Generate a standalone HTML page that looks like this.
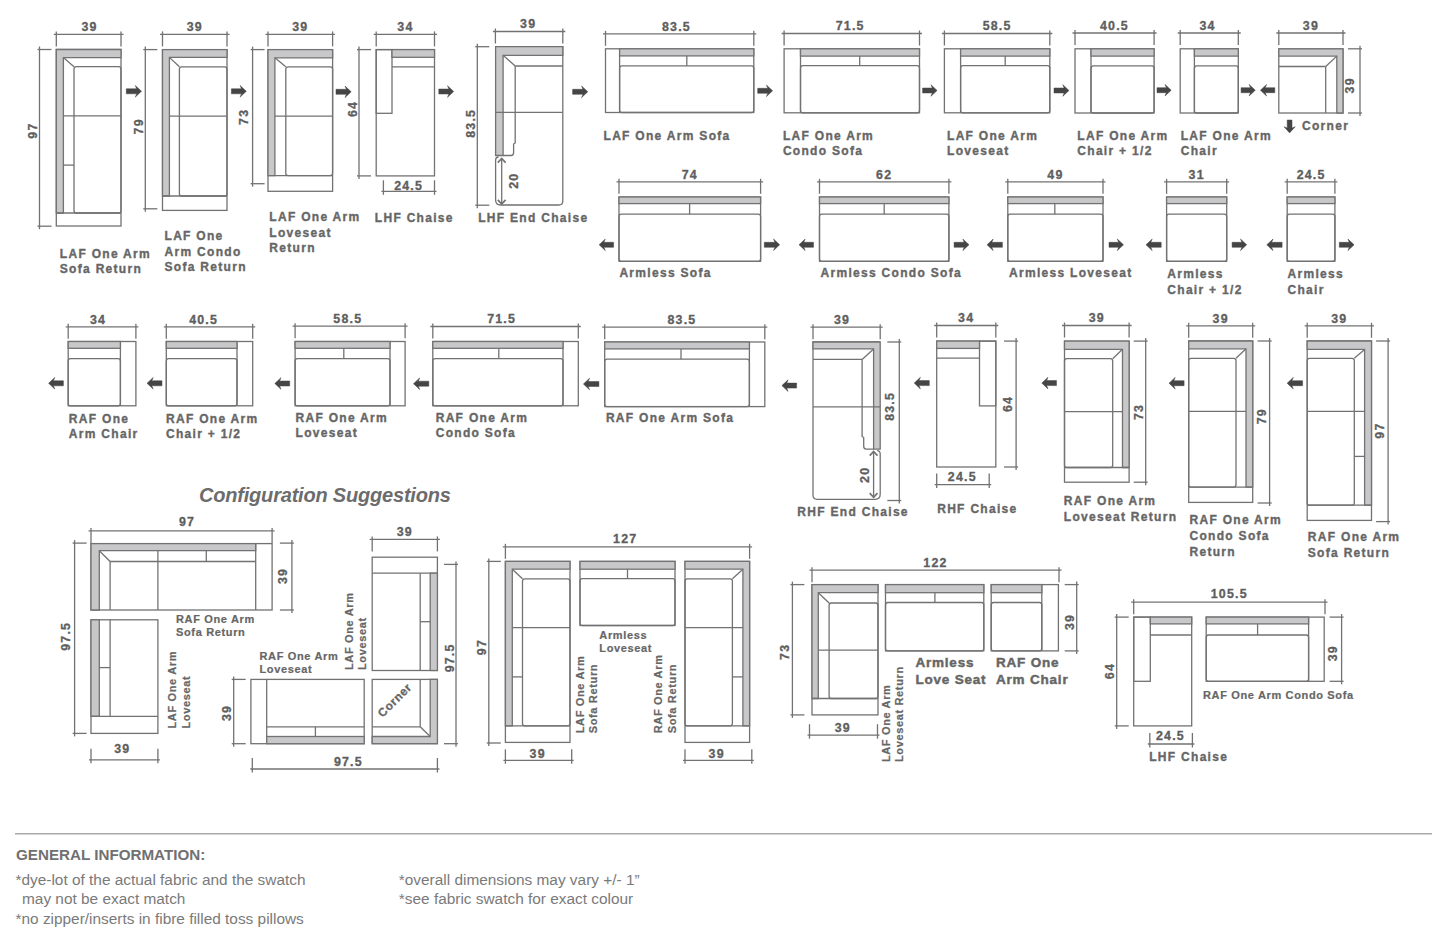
<!DOCTYPE html>
<html><head><meta charset="utf-8"><style>
html,body{margin:0;padding:0;background:#fff;}
svg{display:block;}
text{font-family:"Liberation Sans",sans-serif;}
.lb{font-size:12px;font-weight:bold;fill:#666666;letter-spacing:1.3px;stroke:#666666;stroke-width:0.35px;}
.lbs{font-size:11px;font-weight:bold;fill:#666666;letter-spacing:0.65px;stroke:#666666;stroke-width:0.2px;}
.lbc{font-size:11.8px;font-weight:bold;fill:#666666;letter-spacing:0.6px;stroke:#666666;stroke-width:0.3px;}
.lbb{font-size:13.5px;font-weight:bold;fill:#666666;letter-spacing:0.8px;stroke:#666666;stroke-width:0.45px;}
.num{font-size:12.4px;font-weight:bold;fill:#5e5e5e;letter-spacing:1.2px;stroke:#5e5e5e;stroke-width:0.3px;}
.cfg{font-size:20px;font-weight:bold;font-style:italic;fill:#6c6c6c;letter-spacing:-0.2px;}
.gh{font-size:15.2px;font-weight:bold;fill:#707070;}
.gb{font-size:15.4px;fill:#7a7a7a;}
</style></head><body>
<svg width="1445" height="941" viewBox="0 0 1445 941">
<rect x="56.3" y="49.5" width="64.7" height="176.5" fill="none" stroke="#727272" stroke-width="1.3"/>
<polygon points="56.3,49.5 121,49.5 121,57.6 63.4,57.6 63.4,213 56.3,213" fill="#c8c8ca" stroke="#727272" stroke-width="1.3"/>
<line x1="56.3" y1="213" x2="121" y2="213" stroke="#727272" stroke-width="1.3"/>
<line x1="63.4" y1="57.6" x2="74" y2="66.7" stroke="#727272" stroke-width="1.3"/>
<rect x="74" y="66.7" width="47" height="146.3" fill="none" stroke="#727272" stroke-width="1.3" rx="2.3"/>
<line x1="63.4" y1="115.8" x2="121" y2="115.8" stroke="#727272" stroke-width="1.3"/>
<line x1="63.4" y1="165.1" x2="74" y2="165.1" stroke="#727272" stroke-width="1.3"/>
<line x1="53.8" y1="34.4" x2="123.5" y2="34.4" stroke="#727272" stroke-width="1.3"/>
<line x1="56.3" y1="31.4" x2="56.3" y2="46.4" stroke="#727272" stroke-width="1.3"/>
<line x1="121" y1="31.4" x2="121" y2="46.4" stroke="#727272" stroke-width="1.3"/>
<text x="89.5" y="31.2" class="num" text-anchor="middle">39</text>
<line x1="39.5" y1="46.5" x2="39.5" y2="229.2" stroke="#727272" stroke-width="1.3"/>
<line x1="37.5" y1="49.5" x2="51.5" y2="49.5" stroke="#727272" stroke-width="1.3"/>
<line x1="37.5" y1="226.2" x2="51.5" y2="226.2" stroke="#727272" stroke-width="1.3"/>
<text x="37.5" y="130.6" class="num" text-anchor="middle" transform="rotate(-90 37.5 130.6)">97</text>
<text x="59.8" y="257.5" class="lb">LAF One Arm</text>
<text x="59.8" y="273.2" class="lb">Sofa Return</text>
<polygon points="126.3,88.8 136.7,88.8 135.3,85.5 141.5,91.3 135.3,97.1 136.7,93.8 126.3,93.8" fill="#454545" stroke="#454545" stroke-width="0.5"/>
<rect x="162.5" y="49.6" width="64.5" height="160.8" fill="none" stroke="#727272" stroke-width="1.3"/>
<polygon points="162.5,49.6 227,49.6 227,57.4 169.4,57.4 169.4,196 162.5,196" fill="#c8c8ca" stroke="#727272" stroke-width="1.3"/>
<line x1="162.5" y1="196" x2="227" y2="196" stroke="#727272" stroke-width="1.3"/>
<line x1="169.4" y1="57.4" x2="179.4" y2="66.8" stroke="#727272" stroke-width="1.3"/>
<rect x="179.4" y="66.8" width="47.6" height="129.2" fill="none" stroke="#727272" stroke-width="1.3" rx="2.3"/>
<line x1="169.4" y1="116.2" x2="227" y2="116.2" stroke="#727272" stroke-width="1.3"/>
<line x1="160" y1="34.4" x2="229.5" y2="34.4" stroke="#727272" stroke-width="1.3"/>
<line x1="162.5" y1="31.4" x2="162.5" y2="46.4" stroke="#727272" stroke-width="1.3"/>
<line x1="227" y1="31.4" x2="227" y2="46.4" stroke="#727272" stroke-width="1.3"/>
<text x="194.8" y="31.2" class="num" text-anchor="middle">39</text>
<line x1="145.3" y1="46.6" x2="145.3" y2="211.8" stroke="#727272" stroke-width="1.3"/>
<line x1="143.3" y1="49.6" x2="157.3" y2="49.6" stroke="#727272" stroke-width="1.3"/>
<line x1="143.3" y1="208.8" x2="157.3" y2="208.8" stroke="#727272" stroke-width="1.3"/>
<text x="142.8" y="126.3" class="num" text-anchor="middle" transform="rotate(-90 142.8 126.3)">79</text>
<text x="164.5" y="239.7" class="lb">LAF One</text>
<text x="164.5" y="255.5" class="lb">Arm Condo</text>
<text x="164.5" y="271.3" class="lb">Sofa Return</text>
<polygon points="231.4,88.8 241.5,88.8 240.1,85.5 246.3,91.3 240.1,97.1 241.5,93.8 231.4,93.8" fill="#454545" stroke="#454545" stroke-width="0.5"/>
<rect x="268" y="49.6" width="64.6" height="141.7" fill="none" stroke="#727272" stroke-width="1.3"/>
<polygon points="268,49.6 332.6,49.6 332.6,57.8 274.9,57.8 274.9,175.6 268,175.6" fill="#c8c8ca" stroke="#727272" stroke-width="1.3"/>
<line x1="268" y1="175.6" x2="332.6" y2="175.6" stroke="#727272" stroke-width="1.3"/>
<line x1="274.9" y1="57.8" x2="285.8" y2="66.8" stroke="#727272" stroke-width="1.3"/>
<rect x="285.8" y="66.8" width="46.8" height="108.8" fill="none" stroke="#727272" stroke-width="1.3" rx="2.3"/>
<line x1="274.9" y1="116.2" x2="332.6" y2="116.2" stroke="#727272" stroke-width="1.3"/>
<line x1="265.5" y1="34.4" x2="335.1" y2="34.4" stroke="#727272" stroke-width="1.3"/>
<line x1="268" y1="31.4" x2="268" y2="46.4" stroke="#727272" stroke-width="1.3"/>
<line x1="332.6" y1="31.4" x2="332.6" y2="46.4" stroke="#727272" stroke-width="1.3"/>
<text x="300.3" y="31.2" class="num" text-anchor="middle">39</text>
<line x1="252.6" y1="46.6" x2="252.6" y2="186.7" stroke="#727272" stroke-width="1.3"/>
<line x1="250.6" y1="49.6" x2="264.6" y2="49.6" stroke="#727272" stroke-width="1.3"/>
<line x1="250.6" y1="183.7" x2="264.6" y2="183.7" stroke="#727272" stroke-width="1.3"/>
<text x="248.1" y="116.8" class="num" text-anchor="middle" transform="rotate(-90 248.1 116.8)">73</text>
<text x="269.3" y="221" class="lb">LAF One Arm</text>
<text x="269.3" y="236.7" class="lb">Loveseat</text>
<text x="269.3" y="252.4" class="lb">Return</text>
<polygon points="336,89.3 346.4,89.3 345,86 351.2,91.8 345,97.6 346.4,94.3 336,94.3" fill="#454545" stroke="#454545" stroke-width="0.5"/>
<rect x="376.2" y="49.6" width="58.3" height="126.3" fill="none" stroke="#727272" stroke-width="1.3"/>
<rect x="376.2" y="49.6" width="15.8" height="63.7" fill="none" stroke="#727272" stroke-width="1.3"/>
<rect x="392" y="49.6" width="42.5" height="7.7" fill="#c8c8ca" stroke="#727272" stroke-width="1.3"/>
<line x1="392" y1="66.8" x2="434.5" y2="66.8" stroke="#727272" stroke-width="1.3"/>
<line x1="373.7" y1="34.4" x2="437" y2="34.4" stroke="#727272" stroke-width="1.3"/>
<line x1="376.2" y1="31.4" x2="376.2" y2="46.4" stroke="#727272" stroke-width="1.3"/>
<line x1="434.5" y1="31.4" x2="434.5" y2="46.4" stroke="#727272" stroke-width="1.3"/>
<text x="405.4" y="31.2" class="num" text-anchor="middle">34</text>
<line x1="359" y1="46.6" x2="359" y2="178.9" stroke="#727272" stroke-width="1.3"/>
<line x1="357" y1="49.6" x2="371" y2="49.6" stroke="#727272" stroke-width="1.3"/>
<line x1="357" y1="175.9" x2="371" y2="175.9" stroke="#727272" stroke-width="1.3"/>
<text x="356.5" y="109" class="num" text-anchor="middle" transform="rotate(-90 356.5 109)">64</text>
<line x1="381.4" y1="191.3" x2="436.5" y2="191.3" stroke="#727272" stroke-width="1.3"/>
<line x1="383.4" y1="180.3" x2="383.4" y2="194.8" stroke="#727272" stroke-width="1.3"/>
<line x1="434.5" y1="180.3" x2="434.5" y2="194.8" stroke="#727272" stroke-width="1.3"/>
<text x="408.6" y="189.8" class="num" text-anchor="middle">24.5</text>
<text x="374.8" y="222.3" class="lb">LHF Chaise</text>
<polygon points="438.8,89 448.9,89 447.5,85.7 453.7,91.5 447.5,97.3 448.9,94 438.8,94" fill="#454545" stroke="#454545" stroke-width="0.5"/>
<path d="M495.6,46.7 L562.8,46.7 L562.8,201 Q562.8,205 558.8,205 L500.6,205 Q495.6,205 495.6,200 L495.6,160.5 Q495.6,157.0 498.6,157.0" fill="none" stroke="#727272" stroke-width="1.3"/>
<polygon points="495.6,46.7 562.8,46.7 562.8,55.3 503.1,55.3 503.1,155.5 495.6,155.5" fill="#c8c8ca" stroke="#727272" stroke-width="1.3"/>
<line x1="503.1" y1="55.3" x2="515.2" y2="66" stroke="#727272" stroke-width="1.3"/>
<line x1="515.2" y1="66" x2="562.8" y2="66" stroke="#727272" stroke-width="1.3"/>
<path d="M515.2,66 L515.2,143 L513.6,144 L513.6,152.5 Q513.6,155.5 511.20000000000005,155.5 L503.1,155.5" fill="none" stroke="#727272" stroke-width="1.3"/>
<line x1="495.6" y1="112.4" x2="562.8" y2="112.4" stroke="#727272" stroke-width="1.3"/>
<line x1="492.9" y1="31.5" x2="565.3" y2="31.5" stroke="#727272" stroke-width="1.3"/>
<line x1="495.4" y1="28.5" x2="495.4" y2="43.5" stroke="#727272" stroke-width="1.3"/>
<line x1="562.8" y1="28.5" x2="562.8" y2="43.5" stroke="#727272" stroke-width="1.3"/>
<text x="528.2" y="28.3" class="num" text-anchor="middle">39</text>
<line x1="477.3" y1="43.7" x2="477.3" y2="208.2" stroke="#727272" stroke-width="1.3"/>
<line x1="475.3" y1="46.7" x2="489.3" y2="46.7" stroke="#727272" stroke-width="1.3"/>
<line x1="475.3" y1="205.2" x2="489.3" y2="205.2" stroke="#727272" stroke-width="1.3"/>
<text x="475.1" y="123.3" class="num" text-anchor="middle" transform="rotate(-90 475.1 123.3)">83.5</text>
<line x1="501.7" y1="158.5" x2="501.7" y2="204" stroke="#727272" stroke-width="1.3"/>
<path d="M497.8,162.6 L501.7,158.5 L505.6,162.6" fill="none" stroke="#727272" stroke-width="1.7"/>
<path d="M497.8,199.8 L501.7,204 L505.6,199.8" fill="none" stroke="#727272" stroke-width="1.7"/>
<text x="518.1" y="180.7" class="num" text-anchor="middle" transform="rotate(-90 518.1 180.7)">20</text>
<text x="478.2" y="222.3" class="lb">LHF End Chaise</text>
<polygon points="572.6,89.3 583,89.3 581.6,86 587.8,91.8 581.6,97.6 583,94.3 572.6,94.3" fill="#454545" stroke="#454545" stroke-width="0.5"/>
<rect x="605.5" y="48.8" width="148.3" height="63.7" fill="none" stroke="#727272" stroke-width="1.3"/>
<line x1="619.6" y1="48.8" x2="619.6" y2="112.5" stroke="#727272" stroke-width="1.3"/>
<rect x="619.6" y="48.8" width="134.2" height="7.1" fill="#c8c8ca" stroke="#727272" stroke-width="1.3"/>
<rect x="619.6" y="65.8" width="134.2" height="46.7" fill="none" stroke="#727272" stroke-width="1.3" rx="2.3"/>
<line x1="686.8" y1="55.9" x2="686.8" y2="65.8" stroke="#727272" stroke-width="1.3"/>
<line x1="603" y1="33.8" x2="756.3" y2="33.8" stroke="#727272" stroke-width="1.3"/>
<line x1="605.5" y1="30.8" x2="605.5" y2="45.8" stroke="#727272" stroke-width="1.3"/>
<line x1="753.8" y1="30.8" x2="753.8" y2="45.8" stroke="#727272" stroke-width="1.3"/>
<text x="676.5" y="30.6" class="num" text-anchor="middle">83.5</text>
<text x="603.5" y="139.5" class="lb">LAF One Arm Sofa</text>
<polygon points="757.7,88.3 767.8,88.3 766.4,85 772.6,90.8 766.4,96.6 767.8,93.3 757.7,93.3" fill="#454545" stroke="#454545" stroke-width="0.5"/>
<rect x="784.1" y="48.8" width="135.4" height="64" fill="none" stroke="#727272" stroke-width="1.3"/>
<line x1="800.5" y1="48.8" x2="800.5" y2="112.8" stroke="#727272" stroke-width="1.3"/>
<rect x="800.5" y="48.8" width="119" height="7.3" fill="#c8c8ca" stroke="#727272" stroke-width="1.3"/>
<rect x="800.5" y="65.6" width="119" height="47.2" fill="none" stroke="#727272" stroke-width="1.3" rx="2.3"/>
<line x1="859.7" y1="56.1" x2="859.7" y2="65.6" stroke="#727272" stroke-width="1.3"/>
<line x1="781.6" y1="33.5" x2="922" y2="33.5" stroke="#727272" stroke-width="1.3"/>
<line x1="784.1" y1="30.5" x2="784.1" y2="45.5" stroke="#727272" stroke-width="1.3"/>
<line x1="919.5" y1="30.5" x2="919.5" y2="45.5" stroke="#727272" stroke-width="1.3"/>
<text x="850.2" y="30.3" class="num" text-anchor="middle">71.5</text>
<text x="782.9" y="139.7" class="lb">LAF One Arm</text>
<text x="782.9" y="154.7" class="lb">Condo Sofa</text>
<polygon points="922.6,88 932.3,88 930.9,84.7 937.1,90.5 930.9,96.3 932.3,93 922.6,93" fill="#454545" stroke="#454545" stroke-width="0.5"/>
<rect x="944.4" y="48.8" width="105.4" height="64" fill="none" stroke="#727272" stroke-width="1.3"/>
<line x1="960.6" y1="48.8" x2="960.6" y2="112.8" stroke="#727272" stroke-width="1.3"/>
<rect x="960.6" y="48.8" width="89.2" height="7.3" fill="#c8c8ca" stroke="#727272" stroke-width="1.3"/>
<rect x="960.6" y="65.6" width="89.2" height="47.2" fill="none" stroke="#727272" stroke-width="1.3" rx="2.3"/>
<line x1="1005.2" y1="56.1" x2="1005.2" y2="65.6" stroke="#727272" stroke-width="1.3"/>
<line x1="941.9" y1="33.5" x2="1052.3" y2="33.5" stroke="#727272" stroke-width="1.3"/>
<line x1="944.4" y1="30.5" x2="944.4" y2="45.5" stroke="#727272" stroke-width="1.3"/>
<line x1="1049.8" y1="30.5" x2="1049.8" y2="45.5" stroke="#727272" stroke-width="1.3"/>
<text x="997.1" y="30.3" class="num" text-anchor="middle">58.5</text>
<text x="947" y="140.2" class="lb">LAF One Arm</text>
<text x="947" y="154.7" class="lb">Loveseat</text>
<polygon points="1054,88 1064.2,88 1062.8,84.7 1069,90.5 1062.8,96.3 1064.2,93 1054,93" fill="#454545" stroke="#454545" stroke-width="0.5"/>
<rect x="1075" y="48.8" width="79.1" height="64.2" fill="none" stroke="#727272" stroke-width="1.3"/>
<line x1="1091" y1="48.8" x2="1091" y2="113" stroke="#727272" stroke-width="1.3"/>
<rect x="1091" y="48.8" width="63.1" height="7.3" fill="#c8c8ca" stroke="#727272" stroke-width="1.3"/>
<rect x="1091" y="65.8" width="63.1" height="47.2" fill="none" stroke="#727272" stroke-width="1.3" rx="2.3"/>
<line x1="1072.5" y1="33" x2="1156.6" y2="33" stroke="#727272" stroke-width="1.3"/>
<line x1="1075" y1="30" x2="1075" y2="45" stroke="#727272" stroke-width="1.3"/>
<line x1="1154.1" y1="30" x2="1154.1" y2="45" stroke="#727272" stroke-width="1.3"/>
<text x="1114.5" y="29.8" class="num" text-anchor="middle">40.5</text>
<text x="1077.3" y="140.2" class="lb">LAF One Arm</text>
<text x="1077.3" y="155" class="lb">Chair + 1/2</text>
<polygon points="1157,87.7 1166.4,87.7 1165,84.4 1171.2,90.2 1165,96 1166.4,92.7 1157,92.7" fill="#454545" stroke="#454545" stroke-width="0.5"/>
<rect x="1180.2" y="48.8" width="58.1" height="64.2" fill="none" stroke="#727272" stroke-width="1.3"/>
<line x1="1194.4" y1="48.8" x2="1194.4" y2="113" stroke="#727272" stroke-width="1.3"/>
<rect x="1194.4" y="48.8" width="43.9" height="7.3" fill="#c8c8ca" stroke="#727272" stroke-width="1.3"/>
<rect x="1194.4" y="65.8" width="43.9" height="47.2" fill="none" stroke="#727272" stroke-width="1.3" rx="2.3"/>
<line x1="1177.7" y1="33" x2="1240.8" y2="33" stroke="#727272" stroke-width="1.3"/>
<line x1="1180.2" y1="30" x2="1180.2" y2="45" stroke="#727272" stroke-width="1.3"/>
<line x1="1238.3" y1="30" x2="1238.3" y2="45" stroke="#727272" stroke-width="1.3"/>
<text x="1207.5" y="29.8" class="num" text-anchor="middle">34</text>
<text x="1180.7" y="140.2" class="lb">LAF One Arm</text>
<text x="1180.7" y="155" class="lb">Chair</text>
<polygon points="1241.1,87.7 1250.5,87.7 1249.1,84.4 1255.3,90.2 1249.1,96 1250.5,92.7 1241.1,92.7" fill="#454545" stroke="#454545" stroke-width="0.5"/>
<polygon points="1274.8,87.7 1265.2,87.7 1266.6,84.4 1260.4,90.2 1266.6,96 1265.2,92.7 1274.8,92.7" fill="#454545" stroke="#454545" stroke-width="0.5"/>
<rect x="1278.8" y="48.8" width="64.2" height="64.2" fill="none" stroke="#727272" stroke-width="1.3"/>
<polygon points="1278.8,48.8 1343,48.8 1343,113 1336.8,113 1336.8,56.1 1278.8,56.1" fill="#c8c8ca" stroke="#727272" stroke-width="1.3"/>
<line x1="1336.8" y1="56.1" x2="1325.7" y2="66.5" stroke="#727272" stroke-width="1.3"/>
<line x1="1278.8" y1="66.5" x2="1325.7" y2="66.5" stroke="#727272" stroke-width="1.3"/>
<line x1="1325.7" y1="66.5" x2="1325.7" y2="113" stroke="#727272" stroke-width="1.3"/>
<line x1="1276.3" y1="33" x2="1345.5" y2="33" stroke="#727272" stroke-width="1.3"/>
<line x1="1278.8" y1="30" x2="1278.8" y2="45" stroke="#727272" stroke-width="1.3"/>
<line x1="1343" y1="30" x2="1343" y2="45" stroke="#727272" stroke-width="1.3"/>
<text x="1310.9" y="29.8" class="num" text-anchor="middle">39</text>
<line x1="1360" y1="45.8" x2="1360" y2="116" stroke="#727272" stroke-width="1.3"/>
<line x1="1348" y1="48.8" x2="1362" y2="48.8" stroke="#727272" stroke-width="1.3"/>
<line x1="1348" y1="113" x2="1362" y2="113" stroke="#727272" stroke-width="1.3"/>
<text x="1354.2" y="85.3" class="num" text-anchor="middle" transform="rotate(-90 1354.2 85.3)">39</text>
<polygon points="1287.2,120 1287.2,128.1 1284,126.7 1289.6,132.9 1295.2,126.7 1292,128.1 1292,120" fill="#454545" stroke="#454545" stroke-width="0.5"/>
<text x="1302" y="129.6" class="lb">Corner</text>
<rect x="619" y="197" width="141.6" height="64.3" fill="none" stroke="#727272" stroke-width="1.3"/>
<rect x="619" y="197" width="141.6" height="6.6" fill="#c8c8ca" stroke="#727272" stroke-width="1.3"/>
<rect x="619" y="214.2" width="141.6" height="47.1" fill="none" stroke="#727272" stroke-width="1.3" rx="2.3"/>
<line x1="689.6" y1="203.6" x2="689.6" y2="214.2" stroke="#727272" stroke-width="1.3"/>
<line x1="616.5" y1="181.8" x2="763.1" y2="181.8" stroke="#727272" stroke-width="1.3"/>
<line x1="619" y1="178.8" x2="619" y2="193.8" stroke="#727272" stroke-width="1.3"/>
<line x1="760.6" y1="178.8" x2="760.6" y2="193.8" stroke="#727272" stroke-width="1.3"/>
<text x="689.8" y="178.6" class="num" text-anchor="middle">74</text>
<polygon points="613.6,242.3 603.9,242.3 605.3,239 599.1,244.8 605.3,250.6 603.9,247.3 613.6,247.3" fill="#454545" stroke="#454545" stroke-width="0.5"/>
<polygon points="764.3,242.3 774.9,242.3 773.5,239 779.7,244.8 773.5,250.6 774.9,247.3 764.3,247.3" fill="#454545" stroke="#454545" stroke-width="0.5"/>
<text x="619.4" y="277.3" class="lb">Armless Sofa</text>
<rect x="819.5" y="197" width="129.4" height="64.3" fill="none" stroke="#727272" stroke-width="1.3"/>
<rect x="819.5" y="197" width="129.4" height="6.6" fill="#c8c8ca" stroke="#727272" stroke-width="1.3"/>
<rect x="819.5" y="214.2" width="129.4" height="47.1" fill="none" stroke="#727272" stroke-width="1.3" rx="2.3"/>
<line x1="884.2" y1="203.6" x2="884.2" y2="214.2" stroke="#727272" stroke-width="1.3"/>
<line x1="817" y1="181.8" x2="951.4" y2="181.8" stroke="#727272" stroke-width="1.3"/>
<line x1="819.5" y1="178.8" x2="819.5" y2="193.8" stroke="#727272" stroke-width="1.3"/>
<line x1="948.9" y1="178.8" x2="948.9" y2="193.8" stroke="#727272" stroke-width="1.3"/>
<text x="884.2" y="178.6" class="num" text-anchor="middle">62</text>
<polygon points="813.5,242.3 803.8,242.3 805.2,239 799,244.8 805.2,250.6 803.8,247.3 813.5,247.3" fill="#454545" stroke="#454545" stroke-width="0.5"/>
<polygon points="954.1,242.3 964.2,242.3 962.8,239 969,244.8 962.8,250.6 964.2,247.3 954.1,247.3" fill="#454545" stroke="#454545" stroke-width="0.5"/>
<text x="820.5" y="277.3" class="lb">Armless Condo Sofa</text>
<rect x="1007.8" y="197" width="95.2" height="64.3" fill="none" stroke="#727272" stroke-width="1.3"/>
<rect x="1007.8" y="197" width="95.2" height="6.6" fill="#c8c8ca" stroke="#727272" stroke-width="1.3"/>
<rect x="1007.8" y="214.2" width="95.2" height="47.1" fill="none" stroke="#727272" stroke-width="1.3" rx="2.3"/>
<line x1="1054.8" y1="203.6" x2="1054.8" y2="214.2" stroke="#727272" stroke-width="1.3"/>
<line x1="1005.3" y1="181.8" x2="1105.5" y2="181.8" stroke="#727272" stroke-width="1.3"/>
<line x1="1007.8" y1="178.8" x2="1007.8" y2="193.8" stroke="#727272" stroke-width="1.3"/>
<line x1="1103" y1="178.8" x2="1103" y2="193.8" stroke="#727272" stroke-width="1.3"/>
<text x="1055.4" y="178.6" class="num" text-anchor="middle">49</text>
<polygon points="1002.4,242.3 991.8,242.3 993.2,239 987,244.8 993.2,250.6 991.8,247.3 1002.4,247.3" fill="#454545" stroke="#454545" stroke-width="0.5"/>
<polygon points="1109,242.3 1118.7,242.3 1117.3,239 1123.5,244.8 1117.3,250.6 1118.7,247.3 1109,247.3" fill="#454545" stroke="#454545" stroke-width="0.5"/>
<text x="1009" y="277.3" class="lb">Armless Loveseat</text>
<rect x="1166.6" y="197" width="60.1" height="64.3" fill="none" stroke="#727272" stroke-width="1.3"/>
<rect x="1166.6" y="197" width="60.1" height="6.6" fill="#c8c8ca" stroke="#727272" stroke-width="1.3"/>
<rect x="1166.6" y="214.2" width="60.1" height="47.1" fill="none" stroke="#727272" stroke-width="1.3" rx="2.3"/>
<line x1="1164.1" y1="181.8" x2="1229.2" y2="181.8" stroke="#727272" stroke-width="1.3"/>
<line x1="1166.6" y1="178.8" x2="1166.6" y2="193.8" stroke="#727272" stroke-width="1.3"/>
<line x1="1226.7" y1="178.8" x2="1226.7" y2="193.8" stroke="#727272" stroke-width="1.3"/>
<text x="1196.7" y="178.6" class="num" text-anchor="middle">31</text>
<polygon points="1161.2,242.3 1150.8,242.3 1152.2,239 1146,244.8 1152.2,250.6 1150.8,247.3 1161.2,247.3" fill="#454545" stroke="#454545" stroke-width="0.5"/>
<polygon points="1232.1,242.3 1241.9,242.3 1240.5,239 1246.7,244.8 1240.5,250.6 1241.9,247.3 1232.1,247.3" fill="#454545" stroke="#454545" stroke-width="0.5"/>
<text x="1167.3" y="277.8" class="lb">Armless</text>
<text x="1167.3" y="293.5" class="lb">Chair + 1/2</text>
<rect x="1287.2" y="197" width="47.7" height="64.3" fill="none" stroke="#727272" stroke-width="1.3"/>
<rect x="1287.2" y="197" width="47.7" height="6.6" fill="#c8c8ca" stroke="#727272" stroke-width="1.3"/>
<rect x="1287.2" y="214.2" width="47.7" height="47.1" fill="none" stroke="#727272" stroke-width="1.3" rx="2.3"/>
<line x1="1284.7" y1="181.8" x2="1337.4" y2="181.8" stroke="#727272" stroke-width="1.3"/>
<line x1="1287.2" y1="178.8" x2="1287.2" y2="193.8" stroke="#727272" stroke-width="1.3"/>
<line x1="1334.9" y1="178.8" x2="1334.9" y2="193.8" stroke="#727272" stroke-width="1.3"/>
<text x="1311.1" y="178.6" class="num" text-anchor="middle">24.5</text>
<polygon points="1282.1,242.3 1271.6,242.3 1273,239 1266.8,244.8 1273,250.6 1271.6,247.3 1282.1,247.3" fill="#454545" stroke="#454545" stroke-width="0.5"/>
<polygon points="1339.3,242.3 1349.3,242.3 1347.9,239 1354.1,244.8 1347.9,250.6 1349.3,247.3 1339.3,247.3" fill="#454545" stroke="#454545" stroke-width="0.5"/>
<text x="1287.5" y="277.8" class="lb">Armless</text>
<text x="1287.5" y="293.5" class="lb">Chair</text>
<rect x="68.2" y="341.5" width="67.7" height="64.3" fill="none" stroke="#727272" stroke-width="1.3"/>
<line x1="120.4" y1="341.5" x2="120.4" y2="405.8" stroke="#727272" stroke-width="1.3"/>
<rect x="68.2" y="341.5" width="52.2" height="6.8" fill="#c8c8ca" stroke="#727272" stroke-width="1.3"/>
<rect x="68.2" y="358.7" width="52.2" height="47.1" fill="none" stroke="#727272" stroke-width="1.3" rx="2.3"/>
<line x1="65.7" y1="326.8" x2="138.4" y2="326.8" stroke="#727272" stroke-width="1.3"/>
<line x1="68.2" y1="323.8" x2="68.2" y2="338.8" stroke="#727272" stroke-width="1.3"/>
<line x1="135.9" y1="323.8" x2="135.9" y2="338.8" stroke="#727272" stroke-width="1.3"/>
<text x="98" y="323.6" class="num" text-anchor="middle">34</text>
<text x="68.8" y="422.9" class="lb">RAF One</text>
<text x="68.8" y="437.6" class="lb">Arm Chair</text>
<polygon points="63.4,380.8 53.4,380.8 54.8,377.5 48.6,383.3 54.8,389.1 53.4,385.8 63.4,385.8" fill="#454545" stroke="#454545" stroke-width="0.5"/>
<rect x="166.3" y="341.5" width="86.4" height="64.3" fill="none" stroke="#727272" stroke-width="1.3"/>
<line x1="237" y1="341.5" x2="237" y2="405.8" stroke="#727272" stroke-width="1.3"/>
<rect x="166.3" y="341.5" width="70.7" height="6.8" fill="#c8c8ca" stroke="#727272" stroke-width="1.3"/>
<rect x="166.3" y="358.7" width="70.7" height="47.1" fill="none" stroke="#727272" stroke-width="1.3" rx="2.3"/>
<line x1="163.8" y1="326.8" x2="255.2" y2="326.8" stroke="#727272" stroke-width="1.3"/>
<line x1="166.3" y1="323.8" x2="166.3" y2="338.8" stroke="#727272" stroke-width="1.3"/>
<line x1="252.7" y1="323.8" x2="252.7" y2="338.8" stroke="#727272" stroke-width="1.3"/>
<text x="203.6" y="323.6" class="num" text-anchor="middle">40.5</text>
<text x="166" y="422.9" class="lb">RAF One Arm</text>
<text x="166" y="437.6" class="lb">Chair + 1/2</text>
<polygon points="162,380.8 151.8,380.8 153.2,377.5 147,383.3 153.2,389.1 151.8,385.8 162,385.8" fill="#454545" stroke="#454545" stroke-width="0.5"/>
<rect x="295.1" y="341.5" width="110" height="64.3" fill="none" stroke="#727272" stroke-width="1.3"/>
<line x1="390" y1="341.5" x2="390" y2="405.8" stroke="#727272" stroke-width="1.3"/>
<rect x="295.1" y="341.5" width="94.9" height="6.8" fill="#c8c8ca" stroke="#727272" stroke-width="1.3"/>
<rect x="295.1" y="358.7" width="94.9" height="47.1" fill="none" stroke="#727272" stroke-width="1.3" rx="2.3"/>
<line x1="343.8" y1="348.3" x2="343.8" y2="358.7" stroke="#727272" stroke-width="1.3"/>
<line x1="292.6" y1="326.2" x2="407.6" y2="326.2" stroke="#727272" stroke-width="1.3"/>
<line x1="295.1" y1="323.2" x2="295.1" y2="338.2" stroke="#727272" stroke-width="1.3"/>
<line x1="405.1" y1="323.2" x2="405.1" y2="338.2" stroke="#727272" stroke-width="1.3"/>
<text x="347.8" y="323" class="num" text-anchor="middle">58.5</text>
<text x="295.5" y="421.8" class="lb">RAF One Arm</text>
<text x="295.5" y="437.3" class="lb">Loveseat</text>
<polygon points="289.7,381 279.6,381 281,377.7 274.8,383.5 281,389.3 279.6,386 289.7,386" fill="#454545" stroke="#454545" stroke-width="0.5"/>
<rect x="432.8" y="341.5" width="145.5" height="64.3" fill="none" stroke="#727272" stroke-width="1.3"/>
<line x1="563" y1="341.5" x2="563" y2="405.8" stroke="#727272" stroke-width="1.3"/>
<rect x="432.8" y="341.5" width="130.2" height="6.8" fill="#c8c8ca" stroke="#727272" stroke-width="1.3"/>
<rect x="432.8" y="358.7" width="130.2" height="47.1" fill="none" stroke="#727272" stroke-width="1.3" rx="2.3"/>
<line x1="498.8" y1="348.3" x2="498.8" y2="358.7" stroke="#727272" stroke-width="1.3"/>
<line x1="430.3" y1="326.5" x2="580.8" y2="326.5" stroke="#727272" stroke-width="1.3"/>
<line x1="432.8" y1="323.5" x2="432.8" y2="338.5" stroke="#727272" stroke-width="1.3"/>
<line x1="578.3" y1="323.5" x2="578.3" y2="338.5" stroke="#727272" stroke-width="1.3"/>
<text x="501.6" y="323.3" class="num" text-anchor="middle">71.5</text>
<text x="435.7" y="421.8" class="lb">RAF One Arm</text>
<text x="435.7" y="437.3" class="lb">Condo Sofa</text>
<polygon points="428.8,381.2 418.3,381.2 419.7,377.9 413.5,383.7 419.7,389.5 418.3,386.2 428.8,386.2" fill="#454545" stroke="#454545" stroke-width="0.5"/>
<rect x="604.7" y="342" width="160.1" height="64.6" fill="none" stroke="#727272" stroke-width="1.3"/>
<line x1="749.4" y1="342" x2="749.4" y2="406.6" stroke="#727272" stroke-width="1.3"/>
<rect x="604.7" y="342" width="144.7" height="6.9" fill="#c8c8ca" stroke="#727272" stroke-width="1.3"/>
<rect x="604.7" y="359.2" width="144.7" height="47.4" fill="none" stroke="#727272" stroke-width="1.3" rx="2.3"/>
<line x1="681" y1="348.9" x2="681" y2="359.2" stroke="#727272" stroke-width="1.3"/>
<line x1="602.2" y1="327.2" x2="767.3" y2="327.2" stroke="#727272" stroke-width="1.3"/>
<line x1="604.7" y1="324.2" x2="604.7" y2="339.2" stroke="#727272" stroke-width="1.3"/>
<line x1="764.8" y1="324.2" x2="764.8" y2="339.2" stroke="#727272" stroke-width="1.3"/>
<text x="682" y="324" class="num" text-anchor="middle">83.5</text>
<text x="605.9" y="422.2" class="lb">RAF One Arm Sofa</text>
<polygon points="598.9,381.5 588.2,381.5 589.6,378.2 583.4,384 589.6,389.8 588.2,386.5 598.9,386.5" fill="#454545" stroke="#454545" stroke-width="0.5"/>
<path d="M880.2,342 L813,342 L813,495.3 Q813,499.3 817,499.3 L875.2,499.3 Q880.2,499.3 880.2,494.3 L880.2,454.1 Q880.2,450.6 877.2,450.6" fill="none" stroke="#727272" stroke-width="1.3"/>
<polygon points="880.2,342 813,342 813,348.9 873.6,348.9 873.6,449.1 880.2,449.1" fill="#c8c8ca" stroke="#727272" stroke-width="1.3"/>
<line x1="873.6" y1="348.9" x2="862.1" y2="359.4" stroke="#727272" stroke-width="1.3"/>
<line x1="862.1" y1="359.4" x2="813" y2="359.4" stroke="#727272" stroke-width="1.3"/>
<path d="M862.1,359.4 L862.1,436.5 L863.7,437.5 L863.7,446 Q863.7,449.1 866.1,449.1 L873.6,449.1" fill="none" stroke="#727272" stroke-width="1.3"/>
<line x1="813" y1="406.8" x2="880.2" y2="406.8" stroke="#727272" stroke-width="1.3"/>
<line x1="810.5" y1="327.2" x2="882.7" y2="327.2" stroke="#727272" stroke-width="1.3"/>
<line x1="813" y1="324.2" x2="813" y2="339.2" stroke="#727272" stroke-width="1.3"/>
<line x1="880.2" y1="324.2" x2="880.2" y2="339.2" stroke="#727272" stroke-width="1.3"/>
<text x="842" y="324" class="num" text-anchor="middle">39</text>
<line x1="899.3" y1="339" x2="899.3" y2="503.5" stroke="#727272" stroke-width="1.3"/>
<line x1="887.3" y1="342" x2="901.3" y2="342" stroke="#727272" stroke-width="1.3"/>
<line x1="887.3" y1="500.5" x2="901.3" y2="500.5" stroke="#727272" stroke-width="1.3"/>
<text x="894.3" y="406.4" class="num" text-anchor="middle" transform="rotate(-90 894.3 406.4)">83.5</text>
<line x1="873.6" y1="451.5" x2="873.6" y2="497.5" stroke="#727272" stroke-width="1.3"/>
<path d="M869.7,455.6 L873.6,451.5 L877.5,455.6" fill="none" stroke="#727272" stroke-width="1.7"/>
<path d="M869.7,493.2 L873.6,497.3 L877.5,493.2" fill="none" stroke="#727272" stroke-width="1.7"/>
<text x="869.1" y="474.8" class="num" text-anchor="middle" transform="rotate(-90 869.1 474.8)">20</text>
<text x="797.3" y="516.4" class="lb">RHF End Chaise</text>
<polygon points="796.6,383.1 786.7,383.1 788.1,379.8 781.9,385.6 788.1,391.4 786.7,388.1 796.6,388.1" fill="#454545" stroke="#454545" stroke-width="0.5"/>
<rect x="936.7" y="341.1" width="59.1" height="125.9" fill="none" stroke="#727272" stroke-width="1.3"/>
<rect x="979.5" y="341.1" width="16.3" height="64.8" fill="none" stroke="#727272" stroke-width="1.3"/>
<rect x="936.7" y="341.1" width="42.8" height="7.3" fill="#c8c8ca" stroke="#727272" stroke-width="1.3"/>
<line x1="936.7" y1="358.2" x2="979.5" y2="358.2" stroke="#727272" stroke-width="1.3"/>
<line x1="934.2" y1="325.5" x2="998.3" y2="325.5" stroke="#727272" stroke-width="1.3"/>
<line x1="936.7" y1="322.5" x2="936.7" y2="337.5" stroke="#727272" stroke-width="1.3"/>
<line x1="995.8" y1="322.5" x2="995.8" y2="337.5" stroke="#727272" stroke-width="1.3"/>
<text x="966.2" y="322.3" class="num" text-anchor="middle">34</text>
<line x1="1016.1" y1="338.1" x2="1016.1" y2="470" stroke="#727272" stroke-width="1.3"/>
<line x1="1004.1" y1="341.1" x2="1018.1" y2="341.1" stroke="#727272" stroke-width="1.3"/>
<line x1="1004.1" y1="467" x2="1018.1" y2="467" stroke="#727272" stroke-width="1.3"/>
<text x="1011.7" y="403.9" class="num" text-anchor="middle" transform="rotate(-90 1011.7 403.9)">64</text>
<line x1="934.7" y1="484.6" x2="991.2" y2="484.6" stroke="#727272" stroke-width="1.3"/>
<line x1="936.7" y1="473.6" x2="936.7" y2="488.1" stroke="#727272" stroke-width="1.3"/>
<line x1="989.2" y1="473.6" x2="989.2" y2="488.1" stroke="#727272" stroke-width="1.3"/>
<text x="962.3" y="480.6" class="num" text-anchor="middle">24.5</text>
<text x="937.2" y="512.7" class="lb">RHF Chaise</text>
<polygon points="929.3,380.6 919,380.6 920.4,377.3 914.2,383.1 920.4,388.9 919,385.6 929.3,385.6" fill="#454545" stroke="#454545" stroke-width="0.5"/>
<rect x="1064.5" y="341.1" width="64.6" height="141.1" fill="none" stroke="#727272" stroke-width="1.3"/>
<polygon points="1129.1,341.1 1064.5,341.1 1064.5,349.3 1122.5,349.3 1122.5,467.5 1129.1,467.5" fill="#c8c8ca" stroke="#727272" stroke-width="1.3"/>
<line x1="1129.1" y1="467.5" x2="1064.5" y2="467.5" stroke="#727272" stroke-width="1.3"/>
<line x1="1122.5" y1="349.3" x2="1112.7" y2="358.7" stroke="#727272" stroke-width="1.3"/>
<rect x="1064.5" y="358.7" width="48.2" height="108.8" fill="none" stroke="#727272" stroke-width="1.3" rx="2.3"/>
<line x1="1122.5" y1="411.7" x2="1064.5" y2="411.7" stroke="#727272" stroke-width="1.3"/>
<line x1="1062" y1="325.5" x2="1131.6" y2="325.5" stroke="#727272" stroke-width="1.3"/>
<line x1="1064.5" y1="322.5" x2="1064.5" y2="337.5" stroke="#727272" stroke-width="1.3"/>
<line x1="1129.1" y1="322.5" x2="1129.1" y2="337.5" stroke="#727272" stroke-width="1.3"/>
<text x="1096.8" y="322.3" class="num" text-anchor="middle">39</text>
<line x1="1145.7" y1="338.1" x2="1145.7" y2="485.2" stroke="#727272" stroke-width="1.3"/>
<line x1="1133.7" y1="341.1" x2="1147.7" y2="341.1" stroke="#727272" stroke-width="1.3"/>
<line x1="1133.7" y1="482.2" x2="1147.7" y2="482.2" stroke="#727272" stroke-width="1.3"/>
<text x="1142.5" y="412" class="num" text-anchor="middle" transform="rotate(-90 1142.5 412)">73</text>
<text x="1063.8" y="505.4" class="lb">RAF One Arm</text>
<text x="1063.8" y="521.3" class="lb">Loveseat Return</text>
<polygon points="1056.5,380.6 1046.6,380.6 1048,377.3 1041.8,383.1 1048,388.9 1046.6,385.6 1056.5,385.6" fill="#454545" stroke="#454545" stroke-width="0.5"/>
<rect x="1188.7" y="341" width="64" height="161.4" fill="none" stroke="#727272" stroke-width="1.3"/>
<polygon points="1252.7,341 1188.7,341 1188.7,348.8 1246,348.8 1246,487.1 1252.7,487.1" fill="#c8c8ca" stroke="#727272" stroke-width="1.3"/>
<line x1="1252.7" y1="487.1" x2="1188.7" y2="487.1" stroke="#727272" stroke-width="1.3"/>
<line x1="1246" y1="348.8" x2="1236" y2="358.3" stroke="#727272" stroke-width="1.3"/>
<rect x="1188.7" y="358.3" width="47.3" height="128.8" fill="none" stroke="#727272" stroke-width="1.3" rx="2.3"/>
<line x1="1246" y1="411.4" x2="1188.7" y2="411.4" stroke="#727272" stroke-width="1.3"/>
<line x1="1186.2" y1="325.8" x2="1255.2" y2="325.8" stroke="#727272" stroke-width="1.3"/>
<line x1="1188.7" y1="322.8" x2="1188.7" y2="337.8" stroke="#727272" stroke-width="1.3"/>
<line x1="1252.7" y1="322.8" x2="1252.7" y2="337.8" stroke="#727272" stroke-width="1.3"/>
<text x="1220.7" y="322.6" class="num" text-anchor="middle">39</text>
<line x1="1269.6" y1="338" x2="1269.6" y2="506" stroke="#727272" stroke-width="1.3"/>
<line x1="1257.6" y1="341" x2="1271.6" y2="341" stroke="#727272" stroke-width="1.3"/>
<line x1="1257.6" y1="503" x2="1271.6" y2="503" stroke="#727272" stroke-width="1.3"/>
<text x="1266.5" y="416.2" class="num" text-anchor="middle" transform="rotate(-90 1266.5 416.2)">79</text>
<text x="1189.5" y="523.9" class="lb">RAF One Arm</text>
<text x="1189.5" y="539.7" class="lb">Condo Sofa</text>
<text x="1189.5" y="555.5" class="lb">Return</text>
<polygon points="1184.1,380.7 1173.8,380.7 1175.2,377.4 1169,383.2 1175.2,389 1173.8,385.7 1184.1,385.7" fill="#454545" stroke="#454545" stroke-width="0.5"/>
<rect x="1307.2" y="341" width="64.3" height="179.4" fill="none" stroke="#727272" stroke-width="1.3"/>
<polygon points="1371.5,341 1307.2,341 1307.2,349.4 1364.6,349.4 1364.6,505.2 1371.5,505.2" fill="#c8c8ca" stroke="#727272" stroke-width="1.3"/>
<line x1="1371.5" y1="505.2" x2="1307.2" y2="505.2" stroke="#727272" stroke-width="1.3"/>
<line x1="1364.6" y1="349.4" x2="1354.3" y2="358.3" stroke="#727272" stroke-width="1.3"/>
<rect x="1307.2" y="358.3" width="47.1" height="146.9" fill="none" stroke="#727272" stroke-width="1.3" rx="2.3"/>
<line x1="1364.6" y1="411.4" x2="1307.2" y2="411.4" stroke="#727272" stroke-width="1.3"/>
<line x1="1364.6" y1="456.4" x2="1354.3" y2="456.4" stroke="#727272" stroke-width="1.3"/>
<line x1="1304.7" y1="325.8" x2="1374" y2="325.8" stroke="#727272" stroke-width="1.3"/>
<line x1="1307.2" y1="322.8" x2="1307.2" y2="337.8" stroke="#727272" stroke-width="1.3"/>
<line x1="1371.5" y1="322.8" x2="1371.5" y2="337.8" stroke="#727272" stroke-width="1.3"/>
<text x="1339.3" y="322.6" class="num" text-anchor="middle">39</text>
<line x1="1388.1" y1="338" x2="1388.1" y2="524.6" stroke="#727272" stroke-width="1.3"/>
<line x1="1376.1" y1="341" x2="1390.1" y2="341" stroke="#727272" stroke-width="1.3"/>
<line x1="1376.1" y1="521.6" x2="1390.1" y2="521.6" stroke="#727272" stroke-width="1.3"/>
<text x="1384.5" y="430.6" class="num" text-anchor="middle" transform="rotate(-90 1384.5 430.6)">97</text>
<text x="1307.8" y="541.1" class="lb">RAF One Arm</text>
<text x="1307.8" y="556.9" class="lb">Sofa Return</text>
<polygon points="1302.6,380.7 1291.9,380.7 1293.3,377.4 1287.1,383.2 1293.3,389 1291.9,385.7 1302.6,385.7" fill="#454545" stroke="#454545" stroke-width="0.5"/>
<text x="199" y="502.2" class="cfg">Configuration Suggestions</text>
<rect x="91" y="543.6" width="181.1" height="66.4" fill="none" stroke="#727272" stroke-width="1.3"/>
<polygon points="91,543.6 255.7,543.6 255.7,550.7 99.3,550.7 99.3,610 91,610" fill="#c8c8ca" stroke="#727272" stroke-width="1.3"/>
<line x1="255.7" y1="543.6" x2="255.7" y2="610" stroke="#727272" stroke-width="1.3"/>
<line x1="99.3" y1="550.7" x2="110.1" y2="561.5" stroke="#727272" stroke-width="1.3"/>
<line x1="110.1" y1="561.5" x2="255.7" y2="561.5" stroke="#727272" stroke-width="1.3"/>
<line x1="110.1" y1="561.5" x2="110.1" y2="610" stroke="#727272" stroke-width="1.3"/>
<line x1="157.9" y1="550.7" x2="157.9" y2="610" stroke="#727272" stroke-width="1.3"/>
<line x1="206.3" y1="550.7" x2="206.3" y2="561.5" stroke="#727272" stroke-width="1.3"/>
<line x1="88.5" y1="530.9" x2="274.6" y2="530.9" stroke="#727272" stroke-width="1.3"/>
<line x1="91" y1="527.9" x2="91" y2="542.9" stroke="#727272" stroke-width="1.3"/>
<line x1="272.1" y1="527.9" x2="272.1" y2="542.9" stroke="#727272" stroke-width="1.3"/>
<text x="187" y="525.6" class="num" text-anchor="middle">97</text>
<line x1="291.9" y1="540.1" x2="291.9" y2="613" stroke="#727272" stroke-width="1.3"/>
<line x1="279.9" y1="543.1" x2="293.9" y2="543.1" stroke="#727272" stroke-width="1.3"/>
<line x1="279.9" y1="610" x2="293.9" y2="610" stroke="#727272" stroke-width="1.3"/>
<text x="287.1" y="576" class="num" text-anchor="middle" transform="rotate(-90 287.1 576)">39</text>
<rect x="91" y="619.8" width="66.9" height="113.6" fill="none" stroke="#727272" stroke-width="1.3"/>
<rect x="91" y="619.8" width="8.3" height="96.5" fill="#c8c8ca" stroke="#727272" stroke-width="1.3"/>
<line x1="91" y1="716.3" x2="157.9" y2="716.3" stroke="#727272" stroke-width="1.3"/>
<line x1="110.1" y1="619.8" x2="110.1" y2="716.3" stroke="#727272" stroke-width="1.3"/>
<line x1="99.3" y1="667.6" x2="110.1" y2="667.6" stroke="#727272" stroke-width="1.3"/>
<line x1="74.6" y1="540.1" x2="74.6" y2="736.4" stroke="#727272" stroke-width="1.3"/>
<line x1="72.6" y1="543.1" x2="86.6" y2="543.1" stroke="#727272" stroke-width="1.3"/>
<line x1="72.6" y1="733.4" x2="86.6" y2="733.4" stroke="#727272" stroke-width="1.3"/>
<text x="70.4" y="636.3" class="num" text-anchor="middle" transform="rotate(-90 70.4 636.3)">97.5</text>
<line x1="89" y1="759.8" x2="159.9" y2="759.8" stroke="#727272" stroke-width="1.3"/>
<line x1="91" y1="748.8" x2="91" y2="763.3" stroke="#727272" stroke-width="1.3"/>
<line x1="157.9" y1="748.8" x2="157.9" y2="763.3" stroke="#727272" stroke-width="1.3"/>
<text x="122.3" y="753.4" class="num" text-anchor="middle">39</text>
<text x="176" y="623.1" class="lbs">RAF One Arm</text>
<text x="176" y="636.3" class="lbs">Sofa Return</text>
<text x="175.7" y="728.5" class="lbs" transform="rotate(-90 175.7 728.5)">LAF One Arm</text>
<text x="189.8" y="728.5" class="lbs" transform="rotate(-90 189.8 728.5)">Loveseat</text>
<rect x="372.2" y="557.2" width="65.2" height="113.3" fill="none" stroke="#727272" stroke-width="1.3"/>
<line x1="372.2" y1="573.2" x2="437.4" y2="573.2" stroke="#727272" stroke-width="1.3"/>
<rect x="430.2" y="573.2" width="7.2" height="97.3" fill="#c8c8ca" stroke="#727272" stroke-width="1.3"/>
<line x1="420.2" y1="573.2" x2="420.2" y2="670.5" stroke="#727272" stroke-width="1.3"/>
<line x1="420.2" y1="621.7" x2="430.2" y2="621.7" stroke="#727272" stroke-width="1.3"/>
<line x1="369.7" y1="539.4" x2="439.9" y2="539.4" stroke="#727272" stroke-width="1.3"/>
<line x1="372.2" y1="536.4" x2="372.2" y2="551.4" stroke="#727272" stroke-width="1.3"/>
<line x1="437.4" y1="536.4" x2="437.4" y2="551.4" stroke="#727272" stroke-width="1.3"/>
<text x="404.8" y="535.8" class="num" text-anchor="middle">39</text>
<line x1="456" y1="561.4" x2="456" y2="746.7" stroke="#727272" stroke-width="1.3"/>
<line x1="444" y1="564.4" x2="458" y2="564.4" stroke="#727272" stroke-width="1.3"/>
<line x1="444" y1="743.7" x2="458" y2="743.7" stroke="#727272" stroke-width="1.3"/>
<text x="453.8" y="657.9" class="num" text-anchor="middle" transform="rotate(-90 453.8 657.9)">97.5</text>
<rect x="372.2" y="679.4" width="65.2" height="64.3" fill="none" stroke="#727272" stroke-width="1.3"/>
<polygon points="437.4,679.4 437.4,743.7 372.2,743.7 372.2,736.5 430.2,736.5 430.2,679.4" fill="#c8c8ca" stroke="#727272" stroke-width="1.3"/>
<line x1="430.2" y1="736.5" x2="420.2" y2="726.8" stroke="#727272" stroke-width="1.3"/>
<line x1="420.2" y1="679.4" x2="420.2" y2="726.8" stroke="#727272" stroke-width="1.3"/>
<line x1="372.2" y1="726.8" x2="420.2" y2="726.8" stroke="#727272" stroke-width="1.3"/>
<text x="397.5" y="703" class="lbc" text-anchor="middle" transform="rotate(-45 397.5 703)">Corner</text>
<rect x="250.9" y="679.4" width="113.3" height="64.3" fill="none" stroke="#727272" stroke-width="1.3"/>
<line x1="266.7" y1="679.4" x2="266.7" y2="743.7" stroke="#727272" stroke-width="1.3"/>
<rect x="266.7" y="736.5" width="97.5" height="7.2" fill="#c8c8ca" stroke="#727272" stroke-width="1.3"/>
<line x1="266.7" y1="726.8" x2="364.2" y2="726.8" stroke="#727272" stroke-width="1.3"/>
<line x1="315.4" y1="726.8" x2="315.4" y2="736.5" stroke="#727272" stroke-width="1.3"/>
<line x1="233.7" y1="676.4" x2="233.7" y2="746.7" stroke="#727272" stroke-width="1.3"/>
<line x1="231.7" y1="679.4" x2="245.7" y2="679.4" stroke="#727272" stroke-width="1.3"/>
<line x1="231.7" y1="743.7" x2="245.7" y2="743.7" stroke="#727272" stroke-width="1.3"/>
<text x="230.6" y="713" class="num" text-anchor="middle" transform="rotate(-90 230.6 713)">39</text>
<line x1="250.3" y1="769" x2="439.4" y2="769" stroke="#727272" stroke-width="1.3"/>
<line x1="252.3" y1="758" x2="252.3" y2="772.5" stroke="#727272" stroke-width="1.3"/>
<line x1="437.4" y1="758" x2="437.4" y2="772.5" stroke="#727272" stroke-width="1.3"/>
<text x="348.4" y="766" class="num" text-anchor="middle">97.5</text>
<text x="259.5" y="659.9" class="lbs">RAF One Arm</text>
<text x="259.5" y="673.4" class="lbs">Loveseat</text>
<text x="352.7" y="670" class="lbs" transform="rotate(-90 352.7 670)">LAF One Arm</text>
<text x="365.6" y="670" class="lbs" transform="rotate(-90 365.6 670)">Loveseat</text>
<rect x="505.4" y="561.4" width="64.6" height="181" fill="none" stroke="#727272" stroke-width="1.3"/>
<polygon points="505.4,561.4 570,561.4 570,569.2 512.3,569.2 512.3,725.8 505.4,725.8" fill="#c8c8ca" stroke="#727272" stroke-width="1.3"/>
<line x1="505.4" y1="725.8" x2="570" y2="725.8" stroke="#727272" stroke-width="1.3"/>
<line x1="512.3" y1="569.2" x2="522.5" y2="578.8" stroke="#727272" stroke-width="1.3"/>
<rect x="522.5" y="578.8" width="47.5" height="147" fill="none" stroke="#727272" stroke-width="1.3" rx="2.3"/>
<line x1="512.3" y1="627.7" x2="570" y2="627.7" stroke="#727272" stroke-width="1.3"/>
<line x1="512.3" y1="676.9" x2="522.5" y2="676.9" stroke="#727272" stroke-width="1.3"/>
<rect x="580" y="561.4" width="95" height="64.1" fill="none" stroke="#727272" stroke-width="1.3"/>
<rect x="580" y="561.4" width="95" height="7.8" fill="#c8c8ca" stroke="#727272" stroke-width="1.3"/>
<rect x="580" y="578.6" width="95" height="46.9" fill="none" stroke="#727272" stroke-width="1.3" rx="2.3"/>
<line x1="627.5" y1="569.2" x2="627.5" y2="578.6" stroke="#727272" stroke-width="1.3"/>
<rect x="685" y="561.4" width="64.6" height="181" fill="none" stroke="#727272" stroke-width="1.3"/>
<polygon points="749.6,561.4 685,561.4 685,569.2 742.9,569.2 742.9,725.8 749.6,725.8" fill="#c8c8ca" stroke="#727272" stroke-width="1.3"/>
<line x1="749.6" y1="725.8" x2="685" y2="725.8" stroke="#727272" stroke-width="1.3"/>
<line x1="742.9" y1="569.2" x2="732.4" y2="578.8" stroke="#727272" stroke-width="1.3"/>
<rect x="685" y="578.8" width="47.4" height="147" fill="none" stroke="#727272" stroke-width="1.3" rx="2.3"/>
<line x1="742.9" y1="627.7" x2="685" y2="627.7" stroke="#727272" stroke-width="1.3"/>
<line x1="742.9" y1="676.9" x2="732.4" y2="676.9" stroke="#727272" stroke-width="1.3"/>
<line x1="502.9" y1="546.8" x2="752.1" y2="546.8" stroke="#727272" stroke-width="1.3"/>
<line x1="505.4" y1="543.8" x2="505.4" y2="558.8" stroke="#727272" stroke-width="1.3"/>
<line x1="749.6" y1="543.8" x2="749.6" y2="558.8" stroke="#727272" stroke-width="1.3"/>
<text x="625.2" y="543" class="num" text-anchor="middle">127</text>
<line x1="488.8" y1="558.4" x2="488.8" y2="746" stroke="#727272" stroke-width="1.3"/>
<line x1="486.8" y1="561.4" x2="500.8" y2="561.4" stroke="#727272" stroke-width="1.3"/>
<line x1="486.8" y1="743" x2="500.8" y2="743" stroke="#727272" stroke-width="1.3"/>
<text x="486.5" y="647.1" class="num" text-anchor="middle" transform="rotate(-90 486.5 647.1)">97</text>
<line x1="503.4" y1="760.3" x2="573.7" y2="760.3" stroke="#727272" stroke-width="1.3"/>
<line x1="505.4" y1="749.3" x2="505.4" y2="763.8" stroke="#727272" stroke-width="1.3"/>
<line x1="571.7" y1="749.3" x2="571.7" y2="763.8" stroke="#727272" stroke-width="1.3"/>
<text x="537.7" y="757.5" class="num" text-anchor="middle">39</text>
<line x1="683" y1="760.3" x2="753.8" y2="760.3" stroke="#727272" stroke-width="1.3"/>
<line x1="685" y1="749.3" x2="685" y2="763.8" stroke="#727272" stroke-width="1.3"/>
<line x1="751.8" y1="749.3" x2="751.8" y2="763.8" stroke="#727272" stroke-width="1.3"/>
<text x="716.7" y="757.5" class="num" text-anchor="middle">39</text>
<text x="599.3" y="639.3" class="lbs">Armless</text>
<text x="599.3" y="652" class="lbs">Loveseat</text>
<text x="583.8" y="733.3" class="lbs" transform="rotate(-90 583.8 733.3)">LAF One Arm</text>
<text x="597" y="733.3" class="lbs" transform="rotate(-90 597 733.3)">Sofa Return</text>
<text x="662.5" y="733.3" class="lbs" transform="rotate(-90 662.5 733.3)">RAF One Arm</text>
<text x="675.8" y="733.3" class="lbs" transform="rotate(-90 675.8 733.3)">Sofa Return</text>
<rect x="812" y="584.6" width="66" height="130.3" fill="none" stroke="#727272" stroke-width="1.3"/>
<polygon points="812,584.6 878,584.6 878,592.7 818.3,592.7 818.3,698.5 812,698.5" fill="#c8c8ca" stroke="#727272" stroke-width="1.3"/>
<line x1="812" y1="698.5" x2="878" y2="698.5" stroke="#727272" stroke-width="1.3"/>
<line x1="818.3" y1="592.7" x2="829.1" y2="603" stroke="#727272" stroke-width="1.3"/>
<rect x="829.1" y="603" width="48.9" height="95.5" fill="none" stroke="#727272" stroke-width="1.3" rx="2.3"/>
<line x1="818.3" y1="650.1" x2="878" y2="650.1" stroke="#727272" stroke-width="1.3"/>
<rect x="885.5" y="584.6" width="98.3" height="66.3" fill="none" stroke="#727272" stroke-width="1.3"/>
<rect x="885.5" y="584.6" width="98.3" height="8.1" fill="#c8c8ca" stroke="#727272" stroke-width="1.3"/>
<rect x="885.5" y="602.5" width="98.3" height="48.4" fill="none" stroke="#727272" stroke-width="1.3" rx="2.3"/>
<line x1="934.9" y1="592.7" x2="934.9" y2="602.5" stroke="#727272" stroke-width="1.3"/>
<rect x="991.2" y="584.6" width="67.2" height="66.3" fill="none" stroke="#727272" stroke-width="1.3"/>
<line x1="1041.8" y1="584.6" x2="1041.8" y2="650.9" stroke="#727272" stroke-width="1.3"/>
<rect x="991.2" y="584.6" width="50.6" height="8.1" fill="#c8c8ca" stroke="#727272" stroke-width="1.3"/>
<rect x="991.2" y="602.5" width="50.6" height="48.4" fill="none" stroke="#727272" stroke-width="1.3" rx="2.3"/>
<line x1="809.5" y1="570.2" x2="1061.5" y2="570.2" stroke="#727272" stroke-width="1.3"/>
<line x1="812" y1="567.2" x2="812" y2="582.2" stroke="#727272" stroke-width="1.3"/>
<line x1="1059" y1="567.2" x2="1059" y2="582.2" stroke="#727272" stroke-width="1.3"/>
<text x="935.5" y="567.2" class="num" text-anchor="middle">122</text>
<line x1="792.4" y1="581.6" x2="792.4" y2="717.9" stroke="#727272" stroke-width="1.3"/>
<line x1="790.4" y1="584.6" x2="804.4" y2="584.6" stroke="#727272" stroke-width="1.3"/>
<line x1="790.4" y1="714.9" x2="804.4" y2="714.9" stroke="#727272" stroke-width="1.3"/>
<text x="789.1" y="651.8" class="num" text-anchor="middle" transform="rotate(-90 789.1 651.8)">73</text>
<line x1="1076.7" y1="581.6" x2="1076.7" y2="653.9" stroke="#727272" stroke-width="1.3"/>
<line x1="1064.7" y1="584.6" x2="1078.7" y2="584.6" stroke="#727272" stroke-width="1.3"/>
<line x1="1064.7" y1="650.9" x2="1078.7" y2="650.9" stroke="#727272" stroke-width="1.3"/>
<text x="1073.5" y="622" class="num" text-anchor="middle" transform="rotate(-90 1073.5 622)">39</text>
<line x1="807.5" y1="735.2" x2="879.5" y2="735.2" stroke="#727272" stroke-width="1.3"/>
<line x1="809.5" y1="724.2" x2="809.5" y2="738.7" stroke="#727272" stroke-width="1.3"/>
<line x1="877.5" y1="724.2" x2="877.5" y2="738.7" stroke="#727272" stroke-width="1.3"/>
<text x="842.8" y="731.5" class="num" text-anchor="middle">39</text>
<text x="915.4" y="667.2" class="lbb">Armless</text>
<text x="915.4" y="683.9" class="lbb">Love Seat</text>
<text x="996" y="667.2" class="lbb">RAF One</text>
<text x="996" y="683.9" class="lbb">Arm Chair</text>
<text x="889.7" y="762.1" class="lbs" transform="rotate(-90 889.7 762.1)">LAF One Arm</text>
<text x="903.1" y="762.1" class="lbs" transform="rotate(-90 903.1 762.1)">Loveseat Return</text>
<rect x="1133.7" y="617.1" width="58" height="108.8" fill="none" stroke="#727272" stroke-width="1.3"/>
<rect x="1133.7" y="617.1" width="16.6" height="64.2" fill="none" stroke="#727272" stroke-width="1.3"/>
<rect x="1150.3" y="617.1" width="41.4" height="6.8" fill="#c8c8ca" stroke="#727272" stroke-width="1.3"/>
<line x1="1150.3" y1="635" x2="1191.7" y2="635" stroke="#727272" stroke-width="1.3"/>
<rect x="1206.2" y="617.1" width="118" height="64.2" fill="none" stroke="#727272" stroke-width="1.3"/>
<line x1="1308.6" y1="617.1" x2="1308.6" y2="681.3" stroke="#727272" stroke-width="1.3"/>
<rect x="1206.2" y="617.1" width="102.4" height="6.8" fill="#c8c8ca" stroke="#727272" stroke-width="1.3"/>
<rect x="1206.2" y="635" width="102.4" height="46.3" fill="none" stroke="#727272" stroke-width="1.3" rx="2.3"/>
<line x1="1257.6" y1="623.9" x2="1257.6" y2="635" stroke="#727272" stroke-width="1.3"/>
<line x1="1131.2" y1="602.2" x2="1327.5" y2="602.2" stroke="#727272" stroke-width="1.3"/>
<line x1="1133.7" y1="599.2" x2="1133.7" y2="614.2" stroke="#727272" stroke-width="1.3"/>
<line x1="1325" y1="599.2" x2="1325" y2="614.2" stroke="#727272" stroke-width="1.3"/>
<text x="1229.3" y="598" class="num" text-anchor="middle">105.5</text>
<line x1="1116.7" y1="614.1" x2="1116.7" y2="728.9" stroke="#727272" stroke-width="1.3"/>
<line x1="1114.7" y1="617.1" x2="1128.7" y2="617.1" stroke="#727272" stroke-width="1.3"/>
<line x1="1114.7" y1="725.9" x2="1128.7" y2="725.9" stroke="#727272" stroke-width="1.3"/>
<text x="1113.6" y="671.1" class="num" text-anchor="middle" transform="rotate(-90 1113.6 671.1)">64</text>
<line x1="1341.6" y1="614.1" x2="1341.6" y2="684.3" stroke="#727272" stroke-width="1.3"/>
<line x1="1329.6" y1="617.1" x2="1343.6" y2="617.1" stroke="#727272" stroke-width="1.3"/>
<line x1="1329.6" y1="681.3" x2="1343.6" y2="681.3" stroke="#727272" stroke-width="1.3"/>
<text x="1337.2" y="653.2" class="num" text-anchor="middle" transform="rotate(-90 1337.2 653.2)">39</text>
<line x1="1147.8" y1="744" x2="1194.4" y2="744" stroke="#727272" stroke-width="1.3"/>
<line x1="1149.8" y1="733" x2="1149.8" y2="747.5" stroke="#727272" stroke-width="1.3"/>
<line x1="1192.4" y1="733" x2="1192.4" y2="747.5" stroke="#727272" stroke-width="1.3"/>
<text x="1170.5" y="739.5" class="num" text-anchor="middle">24.5</text>
<text x="1203" y="698.7" class="lbs">RAF One Arm Condo Sofa</text>
<text x="1149.2" y="761" class="lb">LHF Chaise</text>
<line x1="15" y1="833.7" x2="1432" y2="833.7" stroke="#a9a9a9" stroke-width="1.6"/>
<text x="16" y="860.3" class="gh">GENERAL INFORMATION:</text>
<text x="15.5" y="885" class="gb">*dye-lot of the actual fabric and the swatch</text>
<text x="22" y="904.3" class="gb">may not be exact match</text>
<text x="15.5" y="924.3" class="gb">*no zipper/inserts in fibre filled toss pillows</text>
<text x="398.8" y="885" class="gb">*overall dimensions may vary +/- 1&#8221;</text>
<text x="398.8" y="904.3" class="gb">*see fabric swatch for exact colour</text>
</svg>
</body></html>
